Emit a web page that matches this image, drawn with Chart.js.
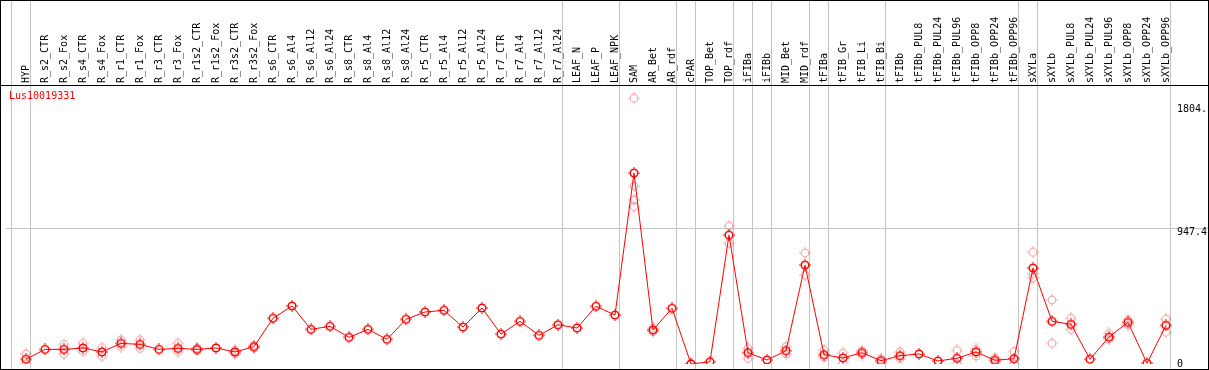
<!DOCTYPE html>
<html><head><meta charset="utf-8">
<script src="https://cdn.jsdelivr.net/npm/chart.js@4.4.1/dist/chart.umd.min.js"></script>
<style>html,body{margin:0;padding:0;background:#fff;overflow:hidden}#wrap{width:1209px;height:370px;position:relative}canvas{display:block}</style>
</head><body><div id="wrap"><canvas id="c" width="1209" height="370"></canvas></div>
<script>
const categories = ['HYP','R_s2_CTR','R_s2_Fox','R_s4_CTR','R_s4_Fox','R_r1_CTR','R_r1_Fox','R_r3_CTR','R_r3_Fox','R_r1s2_CTR','R_r1s2_Fox','R_r3s2_CTR','R_r3s2_Fox','R_s6_CTR','R_s6_Al4','R_s6_Al12','R_s6_Al24','R_s8_CTR','R_s8_Al4','R_s8_Al12','R_s8_Al24','R_r5_CTR','R_r5_Al4','R_r5_Al12','R_r5_Al24','R_r7_CTR','R_r7_Al4','R_r7_Al12','R_r7_Al24','LEAF_N','LEAF_P','LEAF_NPK','SAM','AR_Bet','AR_rdf','cPAR','TOP_Bet','TOP_rdf','iFIBa','iFIBb','MID_Bet','MID_rdf','tFIBa','tFIB_Gr','tFIB_Li','tFIB_Bi','tFIBb','tFIBb_PUL8','tFIBb_PUL24','tFIBb_PUL96','tFIBb_OPP8','tFIBb_OPP24','tFIBb_OPP96','sXYLa','sXYLb','sXYLb_PUL8','sXYLb_PUL24','sXYLb_PUL96','sXYLb_OPP8','sXYLb_OPP24','sXYLb_OPP96'];
const means = [33,102,102,112,84,144,137,102,109,102,112,84,121,319,405,242,263,186,242,172,312,363,375,258,391,209,298,200,274,251,403,342,1333,237,389,0,16,900,79,28,93,691,65,42,79,23,58,70,21,40,84,26,37,670,298,277,33,188,291,5,270];
const repA = [70,null,135,144,114,168,168,null,144,110,null,95,130,null,null,null,null,null,null,null,null,null,null,null,null,null,null,null,null,null,null,null,1855,250,null,5,null,963,109,null,121,775,98,75,93,37,84,null,null,95,102,42,86,780,447,319,null,214,307,null,314];
const repB = [0,null,70,88,54,121,109,null,86,95,null,70,112,null,null,null,null,null,null,null,null,null,null,null,null,null,null,null,null,null,null,null,1243,225,null,0,null,842,40,null,70,621,47,5,65,5,37,null,null,0,56,9,0,630,144,242,null,172,272,null,221];
const repC = [null,null,null,null,null,null,null,null,null,null,null,null,null,null,null,null,null,null,null,null,null,null,null,null,null,null,null,null,null,null,null,null,1145,null,null,null,null,null,null,null,null,null,null,null,null,null,null,null,null,null,null,null,null,600,null,null,null,null,null,null,null];
const repD = [null,null,null,null,null,null,null,null,null,null,null,null,null,null,null,null,null,null,null,null,null,null,null,null,null,null,null,null,null,null,null,null,1098,null,null,null,null,null,null,null,null,null,null,null,null,null,null,null,null,null,null,null,null,null,null,null,null,null,null,null,null];
const groupStarts = [0,1,29,32,35,36,38,39,40,42,43,46,53,54,61];
const yTickValues = [0, 947.4, 1804];
const yTickLabels = ['0', '947.4', '1804.'];
const geneLabel = 'Lus10019331';

const FONT = "'DejaVu Sans Mono', 'Liberation Mono', monospace";
// target geometry of the original plot
const X0 = 26, XSTEP = 19;          // pixel of first category, pixels per category
const Y0 = 364, YMID = 228.3;       // pixel of value 0 and of value 947.4

function glyph(color, lw) {
  const c = document.createElement('canvas'); c.width = 12; c.height = 12;
  const g = c.getContext('2d');
  g.strokeStyle = color; g.fillStyle = color; g.lineWidth = lw;
  g.beginPath(); g.arc(6, 6, 3.8, 0, Math.PI * 2); g.stroke();
  g.fillRect(5.5, 0, 1, 1.5); g.fillRect(5.5, 10.5, 1, 1.5);
  g.fillRect(0, 5.5, 1.5, 1); g.fillRect(10.5, 5.5, 1.5, 1);
  return c;
}
const mainGlyph = glyph('#ff0000', 1.5);
const repGlyph = glyph('rgba(236,130,130,0.7)', 1.2);

const meanPts = means.map((v, i) => ({x: i, y: v}));
const repPts = [];
[repA, repB, repC, repD].forEach(arr => arr.forEach((v, i) => { if (v !== null) repPts.push({x: i, y: v}); }));

const decor = {
  id: 'decor',
  beforeDraw(chart) {
    const ctx = chart.ctx;
    ctx.save(); ctx.fillStyle = '#fff'; ctx.fillRect(0, 0, chart.width, chart.height); ctx.restore();
  },
  beforeDatasetsDraw(chart) {
    const ctx = chart.ctx, xs = chart.scales.x;
    ctx.save();
    ctx.strokeStyle = '#c4c4c4'; ctx.lineWidth = 1;
    groupStarts.forEach(i => {
      const px = Math.floor(xs.getPixelForValue(i - 0.7737)) + 0.5;
      ctx.beginPath(); ctx.moveTo(px, 0); ctx.lineTo(px, chart.height); ctx.stroke();
    });
    ctx.restore();
  },
  afterDraw(chart) {
    const ctx = chart.ctx;
    ctx.save();
    ctx.strokeStyle = '#000'; ctx.lineWidth = 1;
    ctx.strokeRect(0.5, 0.5, chart.width - 1, chart.height - 1);
    ctx.beginPath(); ctx.moveTo(0, 85.5); ctx.lineTo(chart.width, 85.5); ctx.stroke();
    ctx.fillStyle = '#ff0000'; ctx.font = '10px ' + FONT; ctx.textBaseline = 'top'; ctx.textAlign = 'left';
    ctx.fillText(geneLabel, 9, 91);
    ctx.restore();
  }
};

const chart = new Chart(document.getElementById('c'), {
  type: 'line',
  data: {
    datasets: [
      {data: meanPts, borderColor: '#ff0000', borderWidth: 1, pointStyle: mainGlyph, pointRadius: 5, order: 0, tension: 0},
      {data: repPts, showLine: false, pointStyle: repGlyph, pointRadius: 5, order: 1}
    ]
  },
  options: {
    responsive: false, animation: false, devicePixelRatio: 1,
    layout: {padding: {left: 1, right: 1, top: 0, bottom: 1}},
    plugins: {legend: {display: false}, tooltip: {enabled: false}},
    scales: {
      x: {
        type: 'linear', position: 'top', min: -1.3, max: 60.3,
        afterBuildTicks: s => { s.ticks = categories.map((c, i) => ({value: i})); },
        afterFit: s => { s.height = 85; },
        grid: {display: false, drawTicks: false}, border: {display: false},
        ticks: {autoSkip: false, minRotation: 90, maxRotation: 90, padding: 2, labelOffset: 12, color: '#000',
          font: {family: FONT, size: 10},
          callback: v => categories[Math.round(v)]}
      },
      y: {
        type: 'linear', position: 'right', min: -35, max: 1948,
        afterBuildTicks: s => { s.ticks = yTickValues.map(v => ({value: v})); },
        afterFit: s => { s.width = 36; },
        border: {display: false},
        grid: {
          color: c => (c.tick && c.tick.value === 947.4) ? '#c4c4c4' : 'rgba(0,0,0,0)',
          lineWidth: 1, drawTicks: true, tickLength: 40
        },
        ticks: {padding: -35, color: '#000', font: {family: FONT, size: 10, lineHeight: 0.8},
          callback: v => {
            const k = yTickValues.indexOf(v);
            const t = yTickLabels[k];
            return v === 0 ? t : ['', t];
          }}
      }
    }
  },
  plugins: [decor]
});

// fit the scale ranges to the laid-out chart area so categories / values land where the original puts them
(function fitRanges() {
  const a = chart.chartArea;
  const k = (Y0 - YMID) / 947.4;
  chart.options.scales.x.min = (a.left - X0) / XSTEP;
  chart.options.scales.x.max = (a.right - X0) / XSTEP;
  chart.options.scales.y.min = -(a.bottom - Y0) / k;
  chart.options.scales.y.max = (Y0 - a.top) / k;
  chart.update('none');
})();
</script></body></html>
